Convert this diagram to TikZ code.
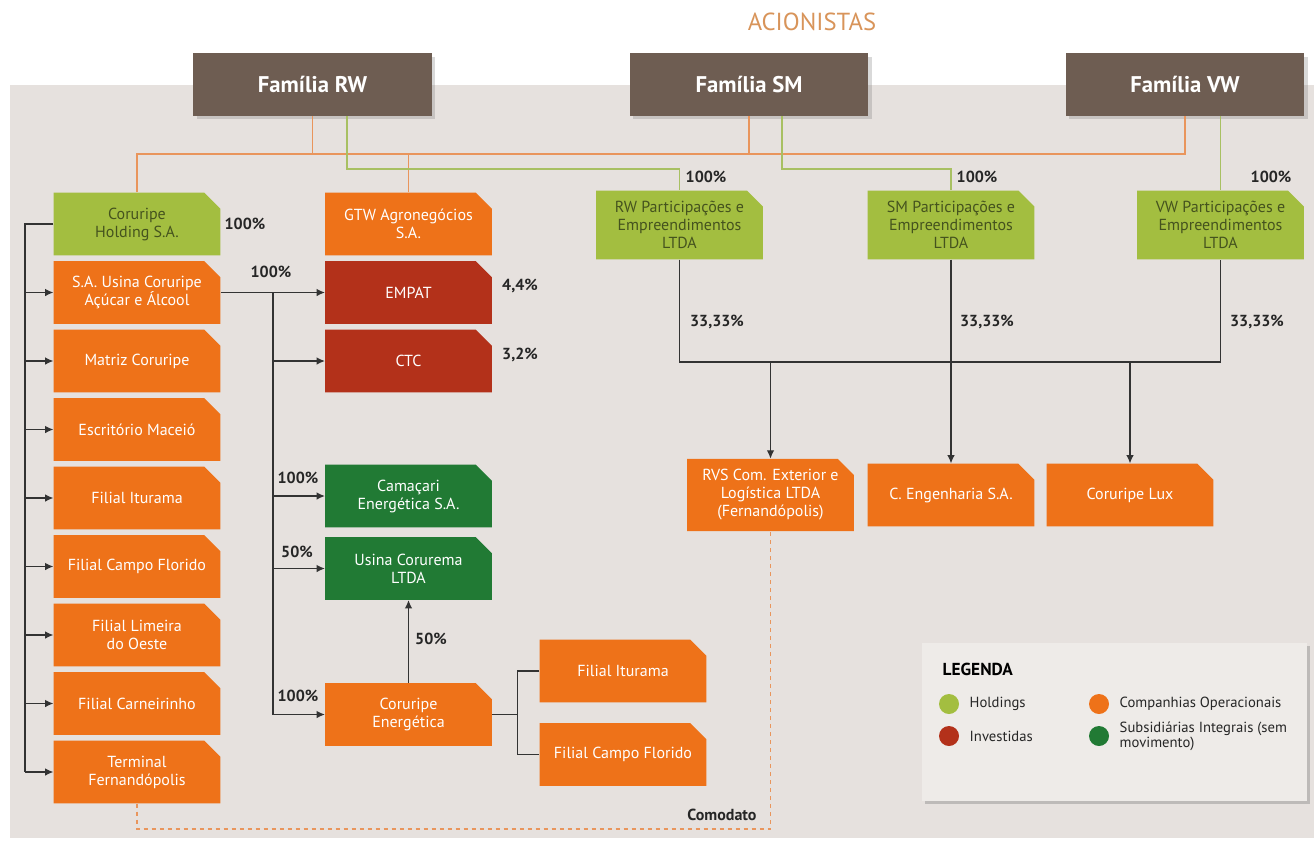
\documentclass[tikz,border=0pt]{standalone}
\usepackage{fontspec}
\setmainfont{PT Sans}
\usepackage{tikz}
\usetikzlibrary{arrows.meta}
\usetikzlibrary{shapes.misc}
\usetikzlibrary{shadows}

\definecolor{familia}{HTML}{6E5D52}
\definecolor{painel}{HTML}{E6E1DE}
\definecolor{holding}{HTML}{A3BE40}
\definecolor{holdtxt}{HTML}{45531E}
\definecolor{operac}{HTML}{EE7219}
\definecolor{invest}{HTML}{B3311A}
\definecolor{subsid}{HTML}{217A34}
\definecolor{linhaor}{HTML}{E9955C}
\definecolor{linhavd}{HTML}{A8C062}
\definecolor{linha}{HTML}{333333}
\definecolor{acion}{HTML}{D8945A}
\definecolor{legfundo}{HTML}{EEEBE8}

\begin{document}
\begin{tikzpicture}[x=0.75pt, y=-0.75pt,
	caixa/.style={chamfered rectangle, chamfered rectangle corners=north east,
		chamfered rectangle xsep=6pt, chamfered rectangle ysep=6pt,
		minimum width=125pt, minimum height=47pt, inner sep=2pt, align=center,
		font=\fontsize{12}{13.5}\selectfont, text=white},
	hold/.style={caixa, fill=holding, text=holdtxt},
	oper/.style={caixa, fill=operac},
	inv/.style={caixa, fill=invest},
	subs/.style={caixa, fill=subsid},
	fam/.style={rectangle, fill=familia, text=white, font=\bfseries\fontsize{17}{20}\selectfont,
		minimum width=179pt, minimum height=47pt,
		drop shadow={shadow xshift=2.5pt, shadow yshift=-2.5pt, opacity=.3}},
	pct/.style={font=\bfseries\fontsize{12}{14}\selectfont, text=black!85},
	legtxt/.style={anchor=west, align=left, font=\fontsize{11}{11}\selectfont, text=black!85},
	ponto/.style={circle, minimum size=15pt, inner sep=0pt},
	seta/.style={draw=linha, line width=0.9pt, -{Latex[length=2.2mm, width=2mm]}},
	liga/.style={draw=linha, line width=0.9pt},
	lor/.style={draw=linhaor, line width=1pt},
	lvd/.style={draw=linhavd, line width=1pt},
	comod/.style={draw=linhaor, line width=0.8pt, dashed}]
			\useasboundingbox (0,0) rectangle (1314,844);
			\fill[painel] (10,85) rectangle (1314,838);

			\node[font=\fontsize{18.5}{20}\selectfont, text=acion] (titulo) at (812,22) {ACIONISTAS};

			% acionistas
			\node[fam] (rw) at (312.5,84.5) {Família RW};
			\node[fam] (sm) at (749,84.5) {Família SM};
			\node[fam] (vw) at (1185,84.5) {Família VW};

			% coluna da esquerda
			\node[hold] (chold) at (137,224) {Coruripe\\Holding S.A.};
			\node[oper] (usina) at (137,292.5) {S.A. Usina Coruripe\\Açúcar e Álcool};
			\node[oper] (matriz) at (137,361) {Matriz Coruripe};
			\node[oper] (escrit) at (137,429.5) {Escritório Maceió};
			\node[oper] (itur) at (137,498) {Filial Iturama};
			\node[oper] (campo) at (137,566.5) {Filial Campo Florido};
			\node[oper] (limeira) at (137,635) {Filial Limeira\\do Oeste};
			\node[oper] (carn) at (137,703.5) {Filial Carneirinho};
			\node[oper] (term) at (137,772) {Terminal\\Fernandópolis};

			% coluna do meio
			\node[oper] (gtw) at (408.5,224) {GTW Agronegócios\\S.A.};
			\node[inv] (empat) at (408.5,292.5) {EMPAT};
			\node[inv] (ctc) at (408.5,361) {CTC};
			\node[subs] (camac) at (408.5,496) {Camaçari\\Energética S.A.};
			\node[subs] (corur) at (408.5,568.5) {Usina Corurema\\LTDA};
			\node[oper] (energ) at (408.5,714.5) {Coruripe\\Energética};
			\node[oper] (itur2) at (623,671) {Filial Iturama};
			\node[oper] (campo2) at (623,754.5) {Filial Campo Florido};

			% participacoes
			\node[hold] (rwp) at (679.5,225) {RW Participações e\\Empreendimentos\\LTDA};
			\node[hold] (smp) at (951,225) {SM Participações e\\Empreendimentos\\LTDA};
			\node[hold] (vwp) at (1220.5,225) {VW Participações e\\Empreendimentos\\LTDA};
			\node[oper] (rvs) at (770.5,495) {RVS Com. Exterior e\\Logística LTDA\\(Fernandópolis)};
			\node[oper] (ceng) at (951,495) {C. Engenharia S.A.};
			\node[oper] (lux) at (1130,495) {Coruripe Lux};

			\coordinate (obus) at (0,154);
			\coordinate (gbus) at (0,169);
			\coordinate (hbus) at (0,362);
			\coordinate (lbus) at (25,0);
			\coordinate (mbus) at (273,0);
			\coordinate (dbus) at (0,829);

			\draw[lor] (chold.north) |- (vw.south |- obus) -- (vw.south);
			\draw[lor] (rw.south) -- (rw.south |- obus);
			\draw[lor] (sm.south) -- (sm.south |- obus);
			\draw[lor] (gtw.north) -- (gtw.north |- obus);
			\draw[lvd] (rw.south) ++(34.5,0) |- (rwp.north |- gbus) -- (rwp.north);
			\draw[lvd] (sm.south) ++(33,0) |- (smp.north |- gbus) -- (smp.north);
			\draw[lvd] (vwp.north |- vw.south) -- (vwp.north);

			\draw[liga] (chold.west) -| (lbus |- term.west);
			\foreach \n in {usina,matriz,escrit,itur,campo,limeira,carn,term}
				\draw[seta] (lbus |- \n.west) -- (\n.west);

			\draw[seta] (usina.east) -- (empat.west);
			\draw[liga] (mbus |- usina.east) -- (mbus |- energ.west);
			\foreach \n in {ctc,camac,corur,energ}
				\draw[seta] (mbus |- \n.west) -- (\n.west);
			\draw[seta] (energ.north) -- (corur.south);
			\draw[liga] (energ.east) -- ++(25,0) coordinate (ebus);
			\draw[liga] (itur2.west) -| (ebus) |- (campo2.west);

			\draw[liga] (rwp.south) |- (vwp.south |- hbus) -- (vwp.south);
			\draw[seta] (smp.south) -- (ceng.north);
			\draw[seta] (rvs.north |- hbus) -- (rvs.north);
			\draw[seta] (lux.north |- hbus) -- (lux.north);

			\draw[comod] (term.south) |- (rvs.south |- dbus) -- (rvs.south);

			% percentuais
			\node[pct] (p0) at (245,224) {100\%};
			\node[pct] (p1) at (271,272) {100\%};
			\node[pct] (p2) at (520,286) {4,4\%};
			\node[pct] (p3) at (520,355) {3,2\%};
			\node[pct] (p4) at (298,478) {100\%};
			\node[pct] (p5) at (297,552) {50\%};
			\node[pct] (p6) at (298,696) {100\%};
			\node[pct] (p7) at (431,639) {50\%};
			\node[pct] (p8) at (706,177) {100\%};
			\node[pct] (p9) at (977,177) {100\%};
			\node[pct] (p10) at (1271,177) {100\%};
			\node[pct] (p11) at (717,322) {33,33\%};
			\node[pct] (p12) at (987,322) {33,33\%};
			\node[pct] (p13) at (1257,322) {33,33\%};
			\node[pct] (comodato) at (722,815) {Comodato};

			% legenda
			\node[fill=legfundo, minimum width=289pt, minimum height=118.5pt,
				drop shadow={shadow xshift=2pt, shadow yshift=-2pt, opacity=.4}] (leg) at (1114.5,722) {};
			\node[anchor=west, font=\bfseries\fontsize{13}{14}\selectfont] (legt) at (938,669) {LEGENDA};
			\node[ponto, fill=holding] (dhold) at (949,704) {};
			\node[ponto, fill=invest] (dinv) at (949,736) {};
			\node[ponto, fill=operac] (doper) at (1099,704) {};
			\node[ponto, fill=subsid] (dsub) at (1099,736) {};
			\node[legtxt] (thold) at (965,704) {Holdings};
			\node[legtxt] (tinv) at (965,736) {Investidas};
			\node[legtxt] (toper) at (1115,704) {Companhias Operacionais};
			\node[legtxt] (tsub) at (1115,736) {Subsidiárias Integrais (sem\\movimento)};
			\end{tikzpicture}
\end{document}
